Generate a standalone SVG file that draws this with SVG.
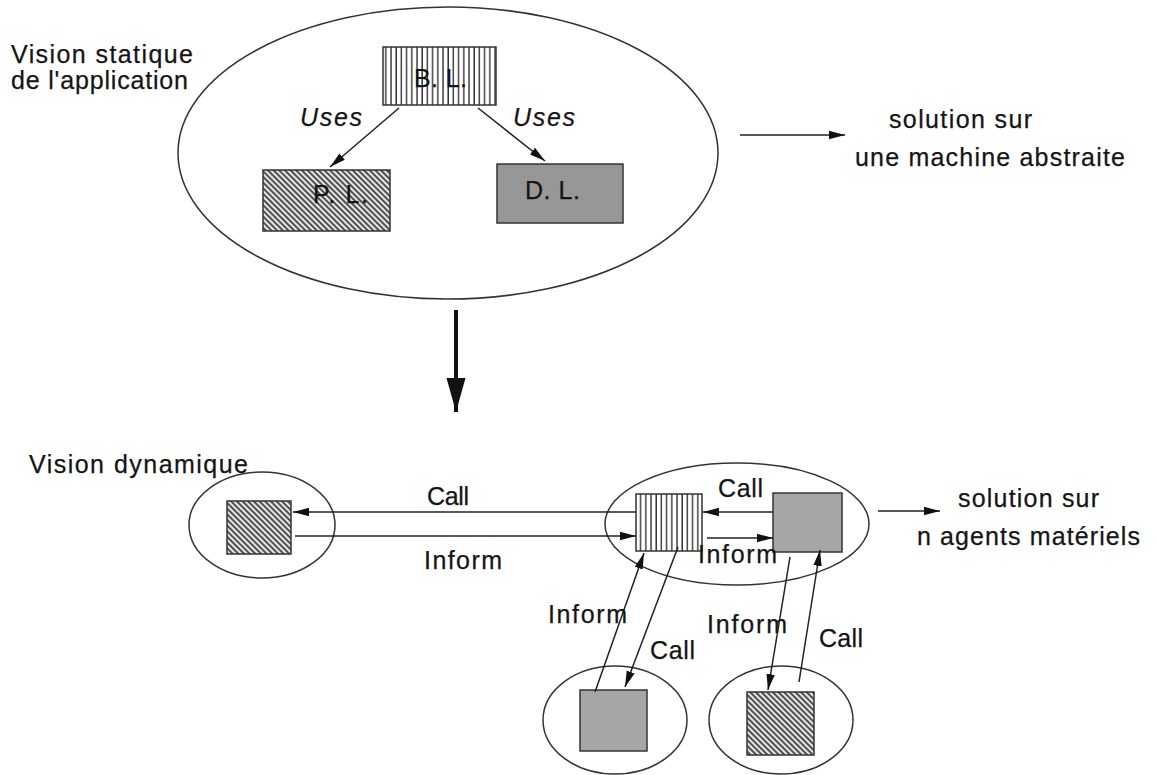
<svg xmlns="http://www.w3.org/2000/svg" width="1157" height="775" viewBox="0 0 1157 775">
  <style>
    .lbl { font-family: "Liberation Sans", Arial, sans-serif; font-size: 25px; fill: #151515; stroke: #151515; stroke-width: 0.25; }
    .it { font-style: italic; }
    .oval { fill: none; stroke: #333; stroke-width: 1.5; }
    .box { stroke: #333; stroke-width: 1.5; }
    .vs { fill: url(#vstripes); }
    .hx { fill: url(#hatch); }
    .gr { fill: #a6a6a6; }
    .dk { fill: #979797; }
    .edge { fill: none; stroke: #222; stroke-width: 1.5; marker-end: url(#head); }
  </style>
  <defs>
    <pattern id="vstripes" width="5.2" height="10" patternUnits="userSpaceOnUse">
      <rect width="5.2" height="10" fill="#fff"/>
      <line x1="1" y1="0" x2="1" y2="10" stroke="#222" stroke-width="1.3"/>
    </pattern>
    <pattern id="hatch" width="4" height="10" patternUnits="userSpaceOnUse" patternTransform="rotate(-45)">
      <rect width="4" height="10" fill="#e6e6e6"/>
      <line x1="1" y1="0" x2="1" y2="10" stroke="#2a2a2a" stroke-width="1.6"/>
    </pattern>
    <marker id="head" viewBox="0 0 16 10" refX="16" refY="5" markerWidth="16" markerHeight="10" markerUnits="userSpaceOnUse" orient="auto">
      <path d="M0,0.8 L16,5 L0,9.2 Z" fill="#111"/>
    </marker>
    <marker id="bighead" viewBox="0 0 34 20" refX="34" refY="10" markerWidth="34" markerHeight="20" markerUnits="userSpaceOnUse" orient="auto">
      <path d="M0,0.5 L34,10 L0,19.5 Z" fill="#111"/>
    </marker>
  </defs>

  <rect width="1157" height="775" fill="#fff"/>

  <!-- side captions -->
  <g id="caption-static">
    <text class="lbl" x="11" y="63" textLength="182" lengthAdjust="spacing">Vision statique</text>
    <text class="lbl" x="11" y="89" textLength="177" lengthAdjust="spacing">de l'application</text>
  </g>
  <g id="caption-dynamic">
    <text class="lbl" x="29" y="473" textLength="219" lengthAdjust="spacing">Vision dynamique</text>
  </g>
  <g id="result-abstract">
    <text class="lbl" x="889" y="128" textLength="143" lengthAdjust="spacing">solution sur</text>
    <text class="lbl" x="855" y="166" textLength="270" lengthAdjust="spacing">une machine abstraite</text>
  </g>
  <g id="result-agents">
    <text class="lbl" x="958" y="507" textLength="141" lengthAdjust="spacing">solution sur</text>
    <text class="lbl" x="917" y="545" textLength="223" lengthAdjust="spacing">n agents matériels</text>
  </g>

  <!-- static view -->
  <g id="app-static">
    <ellipse class="oval" cx="448" cy="153" rx="270" ry="146"/>
  </g>
  <g id="node-bl">
    <rect class="box vs" x="383" y="47" width="113" height="58"/>
    <text class="lbl" x="414" y="87" textLength="53" lengthAdjust="spacing">B. L.</text>
  </g>
  <g id="node-pl">
    <rect class="box hx" x="263" y="170" width="127" height="61"/>
    <text class="lbl" x="313" y="203" textLength="55" lengthAdjust="spacing">P. L.</text>
  </g>
  <g id="node-dl">
    <rect class="box dk" x="497" y="164" width="126" height="59"/>
    <text class="lbl" x="525" y="199" textLength="55" lengthAdjust="spacing">D. L.</text>
  </g>

  <!-- dynamic view: agents -->
  <g id="agent-p">
    <ellipse class="oval" cx="262" cy="525" rx="73" ry="53"/>
    <rect class="box hx" x="227" y="501" width="64" height="53"/>
  </g>
  <g id="agent-main">
    <ellipse class="oval" cx="737" cy="524" rx="132" ry="61"/>
    <rect class="box vs" x="636" y="494" width="66" height="57"/>
    <rect class="box gr" x="773" y="493" width="69" height="59"/>
  </g>
  <g id="agent-d">
    <ellipse class="oval" cx="615" cy="720" rx="72" ry="54"/>
    <rect class="box gr" x="580" y="690" width="67" height="61"/>
  </g>
  <g id="agent-p2">
    <ellipse class="oval" cx="781" cy="720" rx="72" ry="54"/>
    <rect class="box hx" x="747" y="692" width="67" height="63"/>
  </g>

  <!-- connectors -->
  <g id="connectors">
    <line class="edge" x1="399" y1="108" x2="330" y2="167"/>
    <line class="edge" x1="478" y1="108" x2="545" y2="161"/>
    <line class="edge" x1="740" y1="135" x2="845" y2="135"/>
    <line x1="456" y1="310" x2="456" y2="412" stroke="#111" stroke-width="4" marker-end="url(#bighead)"/>

    <line class="edge" x1="636" y1="512" x2="293" y2="512"/>
    <line class="edge" x1="295" y1="536" x2="636" y2="536"/>
    <line class="edge" x1="773" y1="512" x2="703" y2="512"/>
    <line class="edge" x1="707" y1="538" x2="773" y2="538"/>
    <line class="edge" x1="878" y1="511" x2="940" y2="511"/>

    <line class="edge" x1="595" y1="692" x2="644" y2="553"/>
    <line class="edge" x1="678" y1="547" x2="625" y2="687"/>
    <line class="edge" x1="790" y1="557" x2="768" y2="690"/>
    <line class="edge" x1="799" y1="682" x2="820" y2="550"/>

    <text class="lbl it" x="300" y="126" textLength="62" lengthAdjust="spacing">Uses</text>
    <text class="lbl it" x="513" y="126" textLength="62" lengthAdjust="spacing">Uses</text>
    <text class="lbl" x="427" y="505" textLength="42" lengthAdjust="spacing">Call</text>
    <text class="lbl" x="424" y="569" textLength="78" lengthAdjust="spacing">Inform</text>
    <text class="lbl" x="718" y="497" textLength="45" lengthAdjust="spacing">Call</text>
    <text class="lbl" x="698" y="563" textLength="79" lengthAdjust="spacing">Inform</text>
    <text class="lbl" x="548" y="623" textLength="79" lengthAdjust="spacing">Inform</text>
    <text class="lbl" x="650" y="659" textLength="45" lengthAdjust="spacing">Call</text>
    <text class="lbl" x="707" y="633" textLength="80" lengthAdjust="spacing">Inform</text>
    <text class="lbl" x="819" y="647" textLength="44" lengthAdjust="spacing">Call</text>
  </g>
</svg>
